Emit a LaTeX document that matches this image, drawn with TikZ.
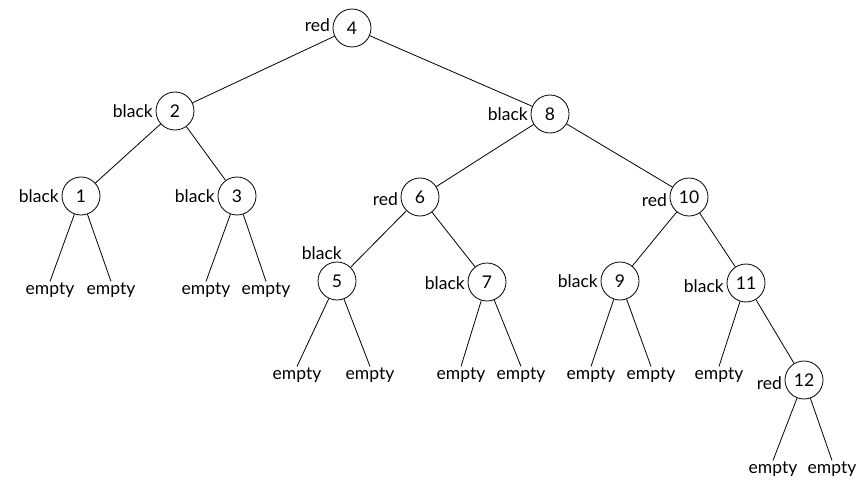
\documentclass[tikz,border=0pt]{standalone}
\usepackage{fontspec}
\setmainfont{Lato}
\begin{document}
\begin{tikzpicture}[x=1pt,y=-1pt,
  key/.style={circle,draw,line width=0.8pt,minimum size=38pt,inner sep=0pt,font=\fontsize{17.5}{20}\selectfont},
  colour/.style={inner sep=1pt,font=\fontsize{17.5}{20}\selectfont},
  leaf/.style={inner sep=1pt,font=\fontsize{17.5}{20}\selectfont},
  link/.style={line width=0.8pt}]
\useasboundingbox (0,0) rectangle (862,484);
% tree nodes
\node[key] (n4)  at (352,28)  {4};
\node[key] (n2)  at (175,111) {2};
\node[key] (n8)  at (550,114) {8};
\node[key] (n1)  at (81,196)  {1};
\node[key] (n3)  at (237,196) {3};
\node[key] (n6)  at (420,197) {6};
\node[key] (n10) at (689,197) {10};
\node[key] (n5)  at (337,281) {5};
\node[key] (n7)  at (487,282) {7};
\node[key] (n9)  at (620,281) {9};
\node[key] (n11) at (746,283) {11};
\node[key] (n12) at (804,380) {12};
% colour labels
\node[colour,anchor=east] (c4)  at (331,25)  {red};
\node[colour,anchor=east] (c2)  at (154,111) {black};
\node[colour,anchor=east] (c8)  at (529,114) {black};
\node[colour,anchor=east] (c1)  at (60,196)  {black};
\node[colour,anchor=east] (c3)  at (216,196) {black};
\node[colour,anchor=east] (c6)  at (399,199) {red};
\node[colour,anchor=east] (c10) at (668,200) {red};
\node[colour,anchor=east] (c5)  at (343,253) {black};
\node[colour,anchor=east] (c7)  at (466,283) {black};
\node[colour,anchor=east] (c9)  at (599,281) {black};
\node[colour,anchor=east] (c11) at (725,286) {black};
\node[colour,anchor=east] (c12) at (783,383) {red};
% empty leaves
\node[leaf] (e1a)  at (50,290)  {empty};
\node[leaf] (e1b)  at (111,290) {empty};
\node[leaf] (e3a)  at (206,290) {empty};
\node[leaf] (e3b)  at (266,290) {empty};
\node[leaf] (e5a)  at (297,375) {empty};
\node[leaf] (e5b)  at (370,375) {empty};
\node[leaf] (e7a)  at (461,375) {empty};
\node[leaf] (e7b)  at (521,375) {empty};
\node[leaf] (e9a)  at (591,375) {empty};
\node[leaf] (e9b)  at (651,375) {empty};
\node[leaf] (e11a) at (719,375) {empty};
\node[leaf] (e12a) at (773,469) {empty};
\node[leaf] (e12b) at (832,469) {empty};
% edges between keys
\draw[link] (n4) -- (n2);
\draw[link] (n4) -- (n8);
\draw[link] (n2) -- (n1);
\draw[link] (n2) -- (n3);
\draw[link] (n8) -- (n6);
\draw[link] (n8) -- (n10);
\draw[link] (n6) -- (n5);
\draw[link] (n6) -- (n7);
\draw[link] (n10) -- (n9);
\draw[link] (n10) -- (n11);
\draw[link] (n11) -- (n12);
% edges to empty leaves
\foreach \p/\c in {n1/e1a,n1/e1b,n3/e3a,n3/e3b,n5/e5a,n5/e5b,n7/e7a,n7/e7b,n9/e9a,n9/e9b,n11/e11a,n12/e12a,n12/e12b}
  \draw[link] (\p) -- (\c.north);
\end{tikzpicture}
\end{document}
